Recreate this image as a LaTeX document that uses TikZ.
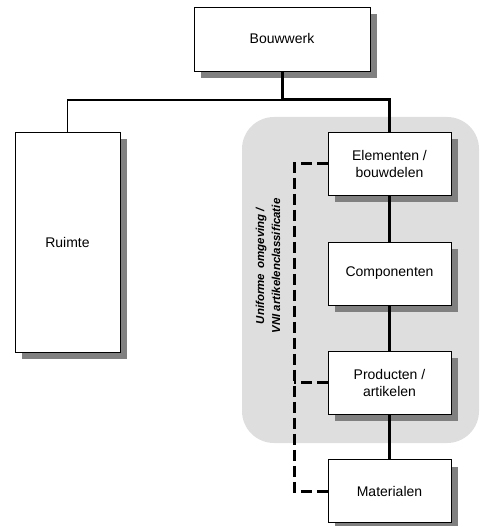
\documentclass[tikz,border=0pt]{standalone}
\usepackage{fontspec}
\setmainfont{Liberation Sans}
\usetikzlibrary{shadows}
\definecolor{zonegray}{HTML}{DEDEDE}
\definecolor{shadegray}{HTML}{808080}
\begin{document}
\begin{tikzpicture}[x=1pt,y=-1pt,
  box/.style={draw=black, line width=0.9pt, fill=white, inner sep=0pt,
    align=center, font=\fontsize{14}{17}\selectfont,
    drop shadow={shadow xshift=7pt, shadow yshift=-7pt, fill=shadegray, opacity=1}},
  unitbox/.style={box, minimum width=123pt, minimum height=63pt},
  mainlink/.style={line width=3pt, line join=miter},
  sidelink/.style={line width=1.2pt, line join=miter},
  reflink/.style={line width=3pt, dash pattern=on 11pt off 5pt, line join=miter}]
\useasboundingbox (0,0) rectangle (480,526);

% shaded zone of the uniform classification
\fill[zonegray, rounded corners=32pt] (242,117) rectangle (479,443);

% boxes
\node[box, minimum width=176pt, minimum height=64pt] (bouwwerk) at (282,39) {Bouwwerk};
\node[box, minimum width=105pt, minimum height=220pt] (ruimte) at (67.5,242) {Ruimte};
\node[unitbox] (elementen) at (389.5,163.5) {Elementen /\\bouwdelen};
\node[unitbox] (componenten) at (389.5,273.5) {Componenten};
\node[unitbox] (producten) at (389.5,382.5) {Producten /\\artikelen};
\node[unitbox] (materialen) at (389.5,491) {Materialen};

% vertical label of the zone
\node[rotate=90, align=center, font=\fontsize{11.5}{16}\selectfont\bfseries\itshape]
  (zonelabel) at (268,266) {Uniforme\, omgeving /\\VNI artikelenclassificatie};

% tree connectors
\coordinate (split) at (282,100);
\draw[sidelink] (split) -| (ruimte.north);
\draw[mainlink] (bouwwerk.south) -- (split) -| (elementen.north);
\draw[mainlink] (elementen.south) -- (componenten.north);
\draw[mainlink] (componenten.south) -- (producten.north);
\draw[mainlink] (producten.south) -- (materialen.north);

% dashed reference line
\coordinate (dashx) at (294,0);
\draw[reflink] (elementen.west) -- (elementen.west -| dashx)
  -- (materialen.west -| dashx) -- (materialen.west);
\draw[reflink] (producten.west) -- (producten.west -| dashx);
\end{tikzpicture}
\end{document}
